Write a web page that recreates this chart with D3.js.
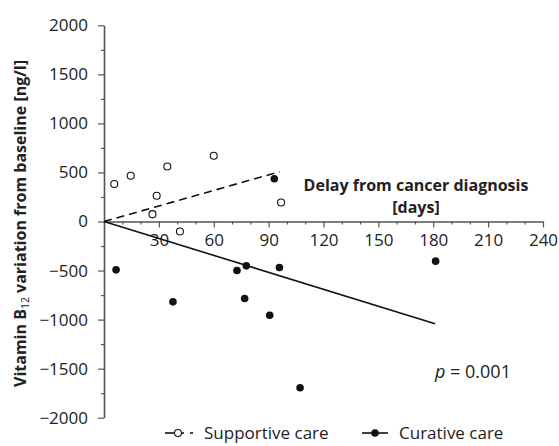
<!DOCTYPE html>
<html>
<head>
<meta charset="utf-8">
<script src="https://cdn.jsdelivr.net/npm/d3@7"></script>
<style>
  body { margin: 0; background: #fff; }
  svg { font-family: "Open Sans", sans-serif; }
</style>
</head>
<body>
<div id="chart"></div>
<script>
// days since diagnosis / B12 change (ng/l)
var supportiveDays = [5.6, 14.6, 26.5, 28.8, 34.6, 41.5, 60, 96.8];
var supportiveVals = [383, 466, 75, 262, 561, -102, 670, 194];
var curativeDays = [6.6, 37.7, 72.7, 76.9, 77.8, 90.6, 93.1, 95.9, 107.2, 181.3];
var curativeVals = [-493, -819, -500, -785, -452, -955, 436, -469, -1694, -404];
var supportiveFit = [[0, 0], [96, 507]];
var curativeFit = [[0, 0], [181, -1042]];
var xTicks = [30, 60, 90, 120, 150, 180, 210, 240];
var yTicks = [-2000, -1500, -1000, -500, 0, 500, 1000, 1500, 2000];
var legendNames = ["Supportive care", "Curative care"];

var width = 559, height = 446;
var svg = d3.select("#chart").append("svg")
    .attr("width", width)
    .attr("height", height);

var x = d3.scaleLinear().domain([0, 240]).range([104, 543]);
var y = d3.scaleLinear().domain([-2000, 2000]).range([417.7, 25.3]);
var axisColor = "#555";
var fmt = d3.format("d");

// y axis, major + minor ticks
svg.append("g")
    .attr("transform", "translate(" + x(0) + ",0)")
    .call(d3.axisLeft(y).tickValues(yTicks).tickFormat(fmt).tickSize(6).tickPadding(10).tickSizeOuter(0));
svg.append("g")
    .attr("transform", "translate(" + x(0) + ",0)")
    .call(d3.axisLeft(y).tickValues(d3.range(-1750, 2000, 500)).tickSize(3).tickFormat(""))
    .select(".domain").remove();

// x axis on zero line
svg.append("g")
    .attr("transform", "translate(0," + y(0) + ")")
    .call(d3.axisBottom(x).tickValues(xTicks).tickFormat(fmt).tickSize(6).tickPadding(6).tickSizeOuter(0));
svg.append("g")
    .attr("transform", "translate(0," + y(0) + ")")
    .call(d3.axisBottom(x).tickValues(d3.range(10, 240, 10).filter(function(d) { return d % 30; })).tickSize(3).tickFormat(""))
    .select(".domain").remove();

svg.selectAll(".domain").attr("stroke", axisColor).attr("stroke-width", 1.6);
svg.selectAll(".tick line").attr("stroke", axisColor).attr("stroke-width", 1.2);
svg.selectAll(".tick text").attr("font-size", 17).attr("fill", "#222")
    .attr("font-family", "Open Sans, sans-serif");

// fit lines
var line = d3.line().x(function(d) { return x(d[0]); }).y(function(d) { return y(d[1]); });
svg.append("path").datum(supportiveFit).attr("d", line)
    .attr("fill", "none").attr("stroke", "#111").attr("stroke-width", 1.6)
    .attr("stroke-dasharray", "8,5");
svg.append("path").datum(curativeFit).attr("d", line)
    .attr("fill", "none").attr("stroke", "#111").attr("stroke-width", 1.6);

// points
svg.append("g").selectAll("circle")
    .data(d3.zip(supportiveDays, supportiveVals))
    .enter().append("circle")
    .attr("cx", function(d) { return x(d[0]); })
    .attr("cy", function(d) { return y(d[1]); })
    .attr("r", 3.5)
    .attr("fill", "#fff").attr("stroke", "#111").attr("stroke-width", 1.1);

svg.append("g").selectAll("circle")
    .data(d3.zip(curativeDays, curativeVals))
    .enter().append("circle")
    .attr("cx", function(d) { return x(d[0]); })
    .attr("cy", function(d) { return y(d[1]); })
    .attr("r", 3.8)
    .attr("fill", "#111");

// axis titles
var yTitle = svg.append("text")
    .attr("transform", "translate(26,387) rotate(-90)")
    .attr("text-anchor", "start")
    .attr("font-size", 16).attr("font-weight", "bold").attr("fill", "#222");
yTitle.append("tspan").text("Vitamin B");
yTitle.append("tspan").attr("font-size", 10.5).attr("font-weight", "normal").attr("dy", 3).text("12");
yTitle.append("tspan").attr("dy", -3).text(" variation from baseline [ng/l]");

svg.append("text").attr("x", 416).attr("y", 191)
    .attr("text-anchor", "middle").attr("font-size", 16).attr("font-weight", "bold").attr("fill", "#222")
    .text("Delay from cancer diagnosis");
svg.append("text").attr("x", 416).attr("y", 213)
    .attr("text-anchor", "middle").attr("font-size", 16).attr("font-weight", "bold").attr("fill", "#222")
    .text("[days]");

// p-value
var pText = svg.append("text").attr("x", 435).attr("y", 378)
    .attr("font-size", 18).attr("fill", "#222");
pText.append("tspan").attr("font-style", "italic").text("p");
pText.append("tspan").text(" = 0.001");

// legend
var lg = svg.append("g").attr("transform", "translate(0,433)");
lg.append("line").attr("x1", 165).attr("x2", 184).attr("y1", 0).attr("y2", 0)
    .attr("stroke", "#111").attr("stroke-width", 1.6);
lg.append("circle").attr("cx", 178).attr("cy", 0).attr("r", 3.5)
    .attr("fill", "#fff").attr("stroke", "#111").attr("stroke-width", 1.1);
lg.append("line").attr("x1", 190).attr("x2", 193).attr("y1", 0).attr("y2", 0)
    .attr("stroke", "#111").attr("stroke-width", 1.6);
lg.append("text").attr("x", 204).attr("y", 6).attr("font-size", 17).attr("fill", "#222")
    .text(legendNames[0]);

lg.append("line").attr("x1", 362).attr("x2", 388).attr("y1", 0).attr("y2", 0)
    .attr("stroke", "#111").attr("stroke-width", 1.6);
lg.append("circle").attr("cx", 375).attr("cy", 0).attr("r", 3.8).attr("fill", "#111");
lg.append("text").attr("x", 399).attr("y", 6).attr("font-size", 17).attr("fill", "#222")
    .text(legendNames[1]);
</script>
</body>
</html>
